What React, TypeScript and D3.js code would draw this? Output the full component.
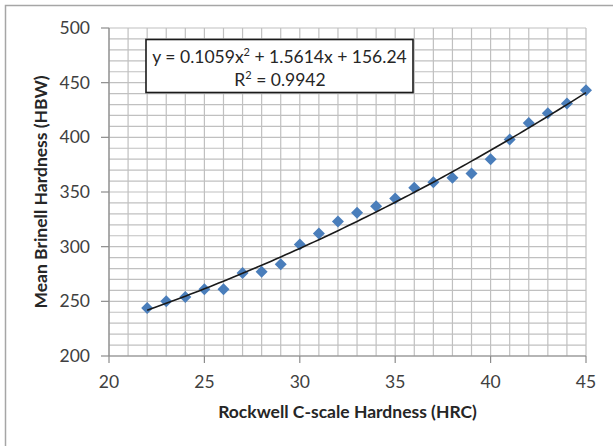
import React from "react";
import * as d3 from "d3";

const hrc = [22, 23, 24, 25, 26, 27, 28, 29, 30, 31, 32, 33, 34, 35, 36, 37, 38, 39, 40, 41, 42, 43, 44, 45];
const hbw = [244, 250, 254, 261, 261, 276, 277, 284, 302, 312, 323, 331, 337, 344, 354, 359, 363, 367, 380, 398, 413, 422, 431, 443];
const trendCoef = [0.1059, 1.5614, 156.24];
const xTicks = [20, 25, 30, 35, 40, 45];
const yTicks = [200, 250, 300, 350, 400, 450, 500];
const xTitle = "Rockwell C-scale Hardness (HRC)";
const yTitle = "Mean Brinell Hardness (HBW)";

const W = 613, H = 446;
const L = 109, R = 586, T = 28, B = 356;
const FONT = "Lato, 'Open Sans', sans-serif";

export default function App() {
  const x = d3.scaleLinear().domain([20, 45]).range([L, R]);
  const y = d3.scaleLinear().domain([200, 500]).range([B, T]);
  const vLines = d3.range(20, 46, 1);
  const hLines = d3.range(200, 501, 10);
  const trendX = d3.range(22, 45.001, 0.25);
  const f = (v: number) => trendCoef[0] * v * v + trendCoef[1] * v + trendCoef[2];
  const line = d3.line<number>().x(v => x(v)).y(v => y(f(v)));
  const ds = 6;
  return (
    <svg width={W} height={H} style={{ position: "absolute", left: 0, top: 0, background: "#fff" }}>
      <rect x={5.5} y={5.5} width={W + 10} height={H + 10} fill="#fff" stroke="#a6a6a6" strokeWidth={1.5} />
      <g stroke="#c0c0c0" strokeWidth={1.2}>
        {vLines.map(v => <line key={"v" + v} x1={x(v)} x2={x(v)} y1={T} y2={B} />)}
        {hLines.map(v => <line key={"h" + v} x1={L} x2={R} y1={y(v)} y2={y(v)} />)}
      </g>
      <g stroke="#8c8c8c" strokeWidth={1.2}>
        <line x1={L} x2={L} y1={T} y2={B} />
        <line x1={L} x2={R} y1={B} y2={B} />
        {yTicks.map(v => <line key={"yt" + v} x1={L - 8} x2={L} y1={y(v)} y2={y(v)} />)}
        {xTicks.map(v => <line key={"xt" + v} x1={x(v)} x2={x(v)} y1={B} y2={B + 7} />)}
      </g>
      <g fontFamily={FONT} fontSize={17.5} fill="#404040">
        {yTicks.map(v => (
          <text key={"yl" + v} x={L - 19} y={y(v)} dy="0.35em" textAnchor="end">{v}</text>
        ))}
        {xTicks.map(v => (
          <text key={"xl" + v} x={x(v)} y={B + 26} dy="0.35em" textAnchor="middle">{v}</text>
        ))}
      </g>
      <g fill="#4a7ebb">
        {hrc.map((v, i) => (
          <path key={"p" + v} d={`M${x(v)},${y(hbw[i]) - ds}L${x(v) + ds},${y(hbw[i])}L${x(v)},${y(hbw[i]) + ds}L${x(v) - ds},${y(hbw[i])}Z`} />
        ))}
      </g>
      <path d={line(trendX) || ""} fill="none" stroke="#1a1a1a" strokeWidth={1.6} />
      <rect x={146} y={39.5} width={267} height={53} fill="#fff" stroke="#1a1a1a" strokeWidth={1.6} />
      <g fontFamily={FONT} fontSize={17.5} fill="#262626" textAnchor="middle">
        <text x={279.5} y={63}>
          y = 0.1059x<tspan dy="-7" fontSize={11}>2</tspan><tspan dy="7"> + 1.5614x + 156.24</tspan>
        </text>
        <text x={280} y={86}>
          R<tspan dy="-7" fontSize={11}>2</tspan><tspan dy="7"> = 0.9942</tspan>
        </text>
      </g>
      <text x={(L + R) / 2} y={418} textAnchor="middle" fontFamily={FONT} fontSize={17.5} fontWeight="bold" fill="#262626">{xTitle}</text>
      <text transform={`translate(41,${(T + B) / 2}) rotate(-90)`} dy="0.35em" textAnchor="middle" fontFamily={FONT} fontSize={17.5} fontWeight="bold" fill="#262626">{yTitle}</text>
    </svg>
  );
}
